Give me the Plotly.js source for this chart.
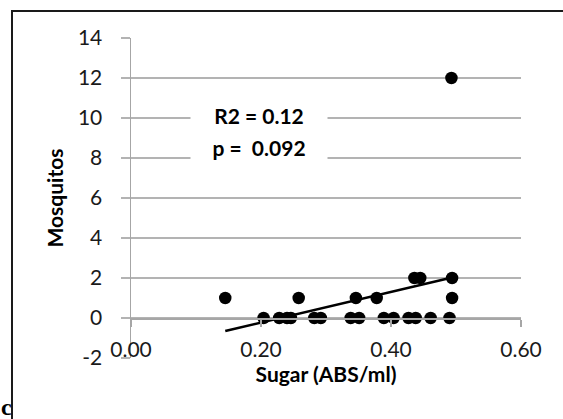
<!DOCTYPE html>
<html>
<head>
<meta charset="utf-8">
<script src="https://cdn.plot.ly/plotly-3.0.1.min.js"></script>
<style>html,body{margin:0;padding:0;background:#fff;}#chart{width:563px;height:419px;}</style>
</head>
<body>
<div id="chart"></div>
<script>
// Data
var sugar = [0.145, 0.204, 0.228, 0.240, 0.246, 0.258, 0.282, 0.292, 0.338, 0.351, 0.346, 0.378, 0.389, 0.404, 0.427, 0.438, 0.436, 0.445, 0.461, 0.490, 0.494, 0.494, 0.493];
var mosquitos = [1, 0, 0, 0, 0, 1, 0, 0, 0, 0, 1, 1, 0, 0, 0, 0, 2, 2, 0, 0, 1, 2, 12];
var trendX = [0.145, 0.494];
var trendY = [-0.65, 2.02];
var xTicks = [0, 0.2, 0.4, 0.6];
var xTickText = ["0.00", "0.20", "0.40", "0.60"];
var yTicks = [-2, 0, 2, 4, 6, 8, 10, 12, 14];
var yTickText = ["-2", "0", "2", "4", "6", "8", "10", "12", "14"];
var statLines = ["R2 = 0.12", "p =  0.092"];
var panelLabel = "c";

var FONT = "Lato, 'Open Sans', sans-serif";
var W = 563, H = 419, L = 131, R = 42, T = 38, B = 61;
var pw = W - L - R, ph = H - T - B;
function px(xp) { return (xp - L) / pw; }
function py(yp) { return (H - B - yp) / ph; }

var traces = [
  {
    x: sugar, y: mosquitos, type: 'scatter', mode: 'markers',
    marker: {color: '#000000', size: 12.5},
    hoverinfo: 'x+y', showlegend: false, cliponaxis: false
  },
  {
    x: trendX, y: trendY, type: 'scatter', mode: 'lines',
    line: {color: '#000000', width: 2.6},
    hoverinfo: 'skip', showlegend: false
  }
];

var layout = {
  width: W, height: H,
  margin: {l: L, r: R, t: T, b: B, pad: 0},
  paper_bgcolor: '#ffffff', plot_bgcolor: '#ffffff',
  font: {family: FONT, size: 21, color: '#1a1a1a'},
  showlegend: false,
  xaxis: {
    range: [0, 0.6], tickvals: xTicks, ticktext: xTickText,
    anchor: 'free', position: 0.125,
    showgrid: false, zeroline: false,
    showline: true, linecolor: '#a6a6a6', linewidth: 1.5,
    ticks: 'outside', ticklen: 7, tickcolor: '#a6a6a6', tickwidth: 1.5,
    ticklabelstandoff: 5,
    tickfont: {family: FONT, size: 21, color: '#1a1a1a'},
    title: {text: 'Sugar (ABS/ml)', font: {family: FONT, size: 21, color: '#000', weight: 'bold'}, standoff: 6},
    automargin: false, fixedrange: true
  },
  yaxis: {
    range: [-2, 14], tickvals: yTicks, ticktext: yTickText,
    showgrid: true, gridcolor: '#b3b3b3', gridwidth: 1.5,
    zeroline: false,
    showline: true, linecolor: '#a6a6a6', linewidth: 1.5,
    ticks: 'outside', ticklen: 9, tickcolor: '#b3b3b3', tickwidth: 1.5,
    ticklabelstandoff: 14,
    tickfont: {family: FONT, size: 21, color: '#1a1a1a'},
    title: {text: 'Mosquitos', font: {family: FONT, size: 21, color: '#000', weight: 'bold'}, standoff: 8},
    automargin: false, fixedrange: true
  },
  annotations: [
    {xref: 'paper', yref: 'paper', x: px(259), y: py(115), xanchor: 'center', yanchor: 'middle',
     text: statLines[0], showarrow: false, bgcolor: '#ffffff', width: 134, height: 31,
     font: {family: FONT, size: 21, color: '#000', weight: 'bold'}},
    {xref: 'paper', yref: 'paper', x: px(259), y: py(147), xanchor: 'center', yanchor: 'middle',
     text: statLines[1], showarrow: false, bgcolor: '#ffffff', width: 134, height: 31,
     font: {family: FONT, size: 21, color: '#000', weight: 'bold'}},
    {xref: 'paper', yref: 'paper', x: px(0), y: py(421), xanchor: 'left', yanchor: 'bottom',
     text: panelLabel, showarrow: false, borderpad: 0,
     font: {family: "'Liberation Serif', serif", size: 24, color: '#000', weight: 'bold'}}
  ],
  shapes: [
    {type: 'line', xref: 'paper', yref: 'paper', x0: px(12), x1: px(12), y0: py(10), y1: py(425),
     line: {color: '#1a1a1a', width: 2}},
    {type: 'line', xref: 'paper', yref: 'paper', x0: px(11), x1: px(570), y0: py(11), y1: py(11),
     line: {color: '#1a1a1a', width: 2}}
  ]
};

Plotly.newPlot('chart', traces, layout, {displayModeBar: false, staticPlot: true});
</script>
</body>
</html>
